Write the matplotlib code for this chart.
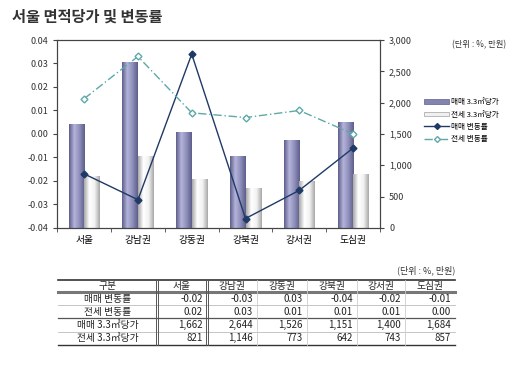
import matplotlib
matplotlib.use("Agg")
import matplotlib.pyplot as plt
import numpy as np
from matplotlib.colors import LinearSegmentedColormap
from matplotlib.lines import Line2D
from matplotlib.patches import Patch
from matplotlib.ticker import FuncFormatter

plt.rcParams["font.family"] = ["Noto Sans CJK KR", "DejaVu Sans"]
plt.rcParams["axes.unicode_minus"] = False

# ---- data ----
regions = ["서울", "강남권", "강동권", "강북권", "강서권", "도심권"]
sale_price = [1662, 2644, 1526, 1151, 1400, 1684]      # 매매 3.3㎡당가 (만원)
jeonse_price = [821, 1146, 773, 642, 743, 857]         # 전세 3.3㎡당가 (만원)
sale_rate = [-0.017, -0.028, 0.034, -0.036, -0.024, -0.006]   # 매매 변동률 (%)
jeonse_rate = [0.015, 0.033, 0.009, 0.007, 0.010, 0.000]      # 전세 변동률 (%)

table_sale_rate = ["-0.02", "-0.03", "0.03", "-0.04", "-0.02", "-0.01"]
table_jeonse_rate = ["0.02", "0.03", "0.01", "0.01", "0.01", "0.00"]
row_labels = ["매매 변동률", "전세 변동률", "매매 3.3㎡당가", "전세 3.3㎡당가"]

DARK = "#1f3a66"
TEAL = "#5fa8a8"

fig = plt.figure(figsize=(5.3, 3.67), dpi=100)
fig.patch.set_facecolor("white")

fig.text(0.022, 0.955, "서울 면적당가 및 변동률", fontsize=11, fontweight="bold",
         color="#333333", va="center", ha="left")

ax = fig.add_axes([0.108, 0.379, 0.609, 0.512])
ax2 = ax.twinx()
ax.set_zorder(ax2.get_zorder() + 1)
ax.patch.set_visible(False)

x = np.arange(len(regions))
w = 0.29

dark_cmap = LinearSegmentedColormap.from_list("dk", ["#5e5e8c", "#b4b4da", "#8e8eba", "#5e5e8c"])
light_cmap = LinearSegmentedColormap.from_list("lt", ["#a8a8a8", "#ffffff", "#f2f2f2", "#a8a8a8"])
grad = np.linspace(0, 1, 64).reshape(1, -1)

bars1 = ax2.bar(x - w / 2, sale_price, w, color="#8c8cb8", edgecolor="none", zorder=2)
bars2 = ax2.bar(x + w / 2, jeonse_price, w, color="#eeeeee", edgecolor="none", zorder=2)
for bars, cmap in ((bars1, dark_cmap), (bars2, light_cmap)):
    for b in bars:
        im = ax2.imshow(grad, cmap=cmap, aspect="auto", zorder=2.5,
                        extent=(b.get_x(), b.get_x() + b.get_width(), 0, b.get_height()))
        im.set_clip_path(b)

ax.plot(x, sale_rate, color=DARK, lw=1.0, marker="D", ms=3.5, mfc=DARK, mec=DARK, zorder=5)
ax.plot(x, jeonse_rate, color=TEAL, lw=1.0, ls=(0, (6, 2, 1, 2)), marker="D", ms=3.5,
        mfc="white", mec=TEAL, zorder=5)

ax.set_xlim(-0.5, len(regions) - 0.5)
ax.set_ylim(-0.04, 0.04)
ax.set_yticks(np.arange(-0.04, 0.0401, 0.01))
ax.yaxis.set_major_formatter(FuncFormatter(lambda v, p: f"{v:.2f}"))
ax2.set_ylim(0, 3000)
ax2.set_yticks(np.arange(0, 3001, 500))
ax2.yaxis.set_major_formatter(FuncFormatter(lambda v, p: f"{int(v):,}"))

ax.set_xticks(x)
ax.set_xticklabels(regions, fontsize=7)
ax.set_xticks(np.arange(-0.5, len(regions), 1), minor=True)
ax.tick_params(axis="x", which="major", length=0, pad=5)
ax.tick_params(axis="x", which="minor", length=3, color="#444444")
ax.tick_params(axis="y", labelsize=6.5, length=3, color="#444444", labelcolor="#333333")
ax2.tick_params(axis="y", labelsize=6.5, length=3, color="#444444", labelcolor="#333333")
for a in (ax, ax2):
    for s in a.spines.values():
        s.set_color("#444444")
        s.set_linewidth(0.8)

fig.text(0.955, 0.878, "(단위 : %, 만원)", fontsize=6, ha="right", va="center", color="#333333")

handles = [
    Patch(facecolor="#8484b2", edgecolor="#5e5e8c", lw=0.5, label="매매 3.3㎡당가"),
    Patch(facecolor="#f0f0f0", edgecolor="#a0a0a0", lw=0.5, label="전세 3.3㎡당가"),
    Line2D([], [], color=DARK, lw=1.0, marker="D", ms=3, mfc=DARK, label="매매 변동률"),
    Line2D([], [], color=TEAL, lw=1.0, ls=(0, (6, 2, 1, 2)), marker="D", ms=3, mfc="white",
           mec=TEAL, label="전세 변동률"),
]
fig.legend(handles=handles, loc="upper left", bbox_to_anchor=(0.795, 0.74), frameon=False,
           fontsize=5.5, handlelength=3.2, handleheight=0.6, labelspacing=0.55,
           handletextpad=0.3, borderaxespad=0)

# ---- table ----
tab = fig.add_axes([58 / 530, 1 - 345 / 367, (455 - 58) / 530, (345 - 280) / 367])
tab.set_xlim(0, 397)
tab.set_ylim(65, 0)
tab.axis("off")

col_edges = [0, 99, 149, 199, 249, 299, 347, 397]
row_edges = [0, 12.3, 25, 38.3, 51.7, 65]
headers = ["구분"] + regions
rows = [
    table_sale_rate,
    table_jeonse_rate,
    [f"{v:,}" for v in sale_price],
    [f"{v:,}" for v in jeonse_price],
]

for i, h in enumerate(headers):
    cx = (col_edges[i] + col_edges[i + 1]) / 2
    tab.text(cx, (row_edges[0] + row_edges[1]) / 2, h, ha="center", va="center",
             fontsize=7, color="#222222")
for r, (lab, vals) in enumerate(zip(row_labels, rows)):
    cy = (row_edges[r + 1] + row_edges[r + 2]) / 2
    tab.text(col_edges[1] / 2, cy, lab, ha="center", va="center", fontsize=7, color="#222222")
    for c, v in enumerate(vals):
        tab.text(col_edges[c + 2] - 4, cy, v, ha="right", va="center", fontsize=7,
                 color="#222222")

tab.plot([0, 397], [0, 0], color="#333333", lw=1.2, clip_on=False)
tab.plot([0, 397], [row_edges[1], row_edges[1]], color="#777777", lw=2.2, clip_on=False)
tab.plot([0, 397], [row_edges[2], row_edges[2]], color="#bbbbbb", lw=0.6, clip_on=False)
tab.plot([0, 397], [row_edges[3], row_edges[3]], color="#555555", lw=0.9, clip_on=False)
tab.plot([0, 397], [row_edges[4], row_edges[4]], color="#bbbbbb", lw=0.6, clip_on=False)
tab.plot([0, 397], [65, 65], color="#333333", lw=1.0, clip_on=False)
for e in col_edges[1:3]:
    tab.plot([e - 0.8, e - 0.8], [0, 65], color="#555555", lw=0.7, clip_on=False)
    tab.plot([e + 0.8, e + 0.8], [0, 65], color="#555555", lw=0.7, clip_on=False)
for e in col_edges[3:-1]:
    tab.plot([e, e], [0, 65], color="#cccccc", lw=0.6, clip_on=False)

tab.text(397, -5, "(단위 : %, 만원)", ha="right", va="bottom", fontsize=6.5, color="#333333")

fig.savefig("out.png", dpi=100)
